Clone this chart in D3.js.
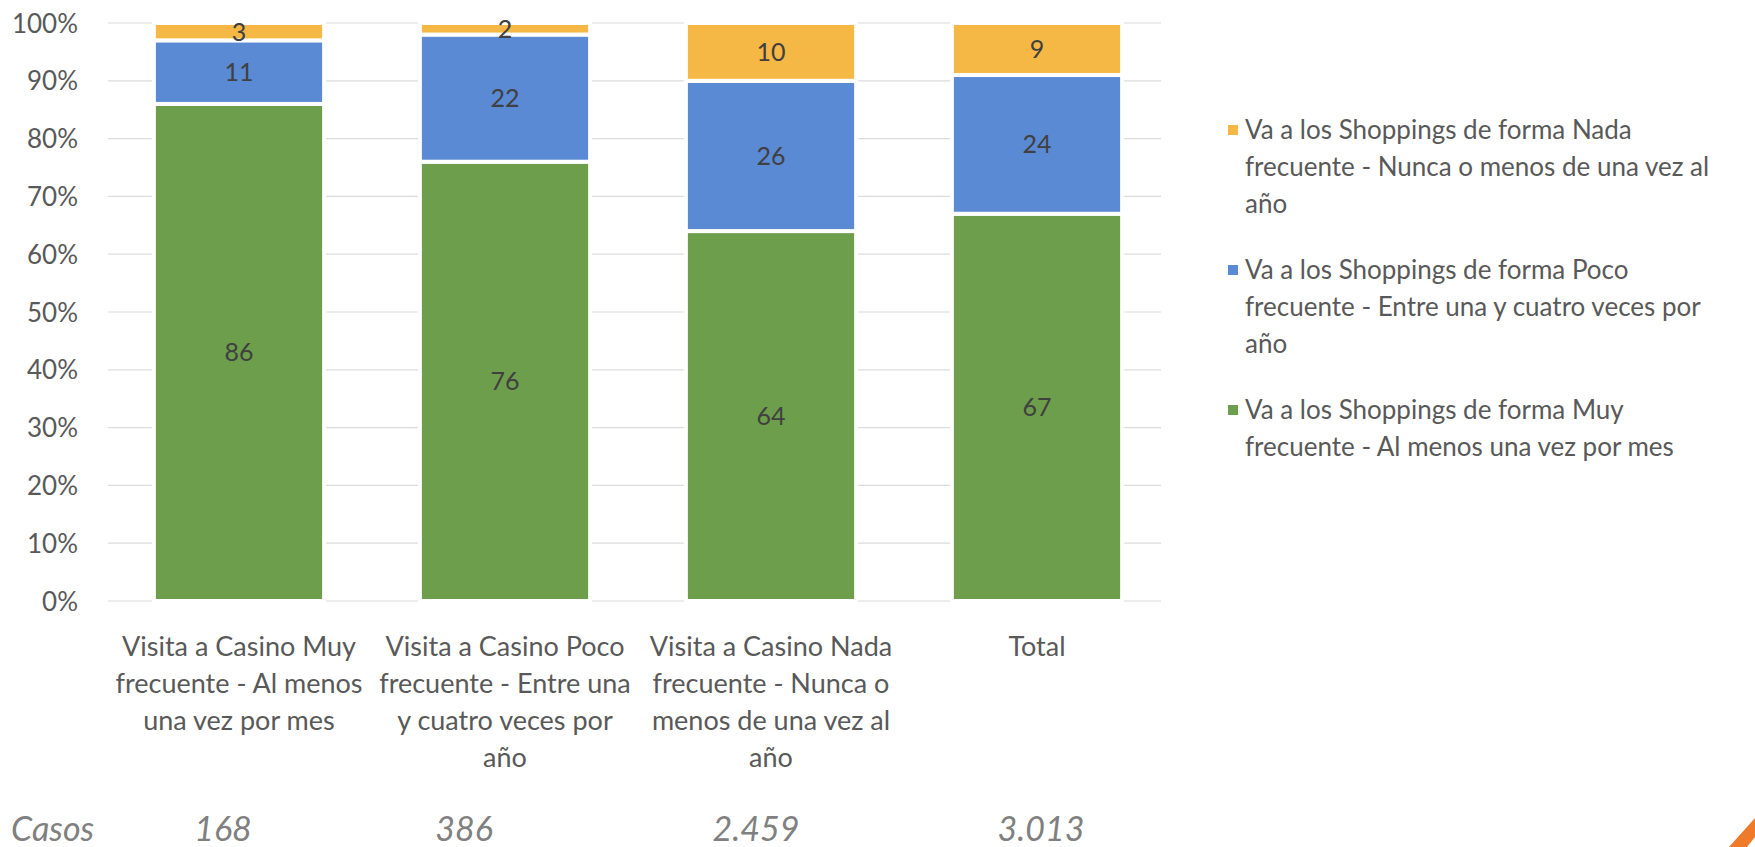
<!DOCTYPE html>
<html>
<head>
<meta charset="utf-8">
<script src="https://cdn.jsdelivr.net/npm/d3@7"></script>
<style>
  html, body { margin: 0; padding: 0; background: #fff; }
  svg { display: block; }
  text { font-family: Lato, "Open Sans", sans-serif; }
</style>
</head>
<body>
<svg id="chart" width="1755" height="847"></svg>
<script>
// Categories (casino visit frequency) and their wrapped label lines
const categories = [
  "Visita a Casino Muy frecuente - Al menos una vez por mes",
  "Visita a Casino Poco frecuente - Entre una y cuatro veces por año",
  "Visita a Casino Nada frecuente - Nunca o menos de una vez al año",
  "Total"
];
const categoryLines = [
  ["Visita a Casino Muy", "frecuente - Al menos", "una vez por mes"],
  ["Visita a Casino Poco", "frecuente - Entre una", "y cuatro veces por", "año"],
  ["Visita a Casino Nada", "frecuente - Nunca o", "menos de una vez al", "año"],
  ["Total"]
];

// Series values (percent), bottom to top of each stack
const muyFrecuente  = [86, 76, 64, 67];
const pocoFrecuente = [11, 22, 26, 24];
const nadaFrecuente = [3, 2, 10, 9];

const seriesNames = [
  "Va a los Shoppings de forma Muy frecuente - Al menos una vez por mes",
  "Va a los Shoppings de forma Poco frecuente - Entre una y cuatro veces por año",
  "Va a los Shoppings de forma Nada frecuente - Nunca o menos de una vez al año"
];
const seriesKeys = ["muy", "poco", "nada"];
const seriesColors = ["#6d9e4c", "#5b8ad4", "#f5b845"];

// Legend entries, top to bottom, with wrapped lines
const legendLines = [
  ["Va a los Shoppings de forma Nada", "frecuente - Nunca o menos de una vez al", "año"],
  ["Va a los Shoppings de forma Poco", "frecuente - Entre una y cuatro veces por", "año"],
  ["Va a los Shoppings de forma Muy", "frecuente - Al menos una vez por mes"]
];
const legendSeries = [2, 1, 0];

// Case counts row
const casosLabel = "Casos";
const casos = ["168", "386", "2.459", "3.013"];
const casosShift = [-16, -41, -15, 4];

const yTicks = [0, 10, 20, 30, 40, 50, 60, 70, 80, 90, 100];

const rows = categories.map((c, i) => ({
  cat: c,
  muy: muyFrecuente[i],
  poco: pocoFrecuente[i],
  nada: nadaFrecuente[i]
}));

const svg = d3.select("#chart");

const x = d3.scaleBand().domain(categories).range([106, 1170]).paddingInner(0.36).paddingOuter(0.18);
const y = d3.scaleLinear().domain([0, 100]).range([601, 23]);

// Gridlines
svg.append("g")
  .selectAll("line")
  .data(yTicks)
  .join("line")
  .attr("x1", 108).attr("x2", 1161)
  .attr("y1", d => y(d)).attr("y2", d => y(d))
  .attr("stroke", "#dcdcdc")
  .attr("stroke-width", 1.2);

// Y axis labels
const yAxis = d3.axisLeft(y).tickValues(yTicks).tickFormat(d => d + "%").tickSize(0).tickPadding(0);
const yg = svg.append("g").attr("transform", "translate(78,0)").call(yAxis);
yg.select(".domain").remove();
yg.selectAll("text")
  .attr("fill", "#595959")
  .style("font-size", "26px")
  .style("font-family", "Lato, sans-serif")
  .attr("dy", "0.35em");

// Stacked bars
const stack = d3.stack().keys(seriesKeys);
const layers = stack(rows);

const gBars = svg.append("g");
layers.forEach((layer, si) => {
  gBars.append("g")
    .selectAll("rect")
    .data(layer)
    .join("rect")
    .attr("x", d => x(d.data.cat))
    .attr("width", x.bandwidth())
    .attr("y", d => y(d[1]))
    .attr("height", d => y(d[0]) - y(d[1]))
    .attr("fill", seriesColors[si])
    .attr("stroke", "#ffffff")
    .attr("stroke-width", 4);
});

// Value labels centered in each segment
layers.forEach((layer, si) => {
  svg.append("g")
    .selectAll("text")
    .data(layer)
    .join("text")
    .attr("x", d => x(d.data.cat) + x.bandwidth() / 2)
    .attr("y", d => y((d[0] + d[1]) / 2))
    .attr("dy", "0.36em")
    .attr("text-anchor", "middle")
    .attr("fill", "#404040")
    .style("font-size", "25px")
    .text(d => d[1] - d[0]);
});

// Category labels
const xg = svg.append("g");
categories.forEach((c, i) => {
  const t = xg.append("text")
    .attr("x", x(c) + x.bandwidth() / 2)
    .attr("y", 655)
    .attr("text-anchor", "middle")
    .attr("fill", "#595959")
    .style("font-size", "27px");
  categoryLines[i].forEach((ln, j) => {
    t.append("tspan")
      .attr("x", x(c) + x.bandwidth() / 2)
      .attr("y", 656 + j * 37)
      .text(ln);
  });
});

// Case counts row
svg.append("text")
  .attr("x", 11).attr("y", 841)
  .attr("fill", "#808080")
  .style("font-size", "34px")
  .style("font-style", "italic")
  .text(casosLabel);
svg.append("g")
  .selectAll("text")
  .data(casos)
  .join("text")
  .attr("x", (d, i) => x(categories[i]) + x.bandwidth() / 2 + casosShift[i])
  .attr("y", 841)
  .attr("text-anchor", "middle")
  .attr("fill", "#808080")
  .style("font-size", "34px")
  .style("font-style", "italic")
  .text(d => d);

// Legend
const legendTop = [130, 270, 410];
const lg = svg.append("g");
legendLines.forEach((lines, k) => {
  const si = legendSeries[k];
  lg.append("rect")
    .attr("x", 1228).attr("y", legendTop[k] - 5)
    .attr("width", 10).attr("height", 10)
    .attr("fill", seriesColors[si]);
  const t = lg.append("text")
    .attr("fill", "#595959")
    .style("font-size", "26px");
  lines.forEach((ln, j) => {
    t.append("tspan")
      .attr("x", 1245)
      .attr("y", legendTop[k] + 9 + j * 37)
      .text(ln);
  });
});

// Corner accent stripe
svg.append("polygon")
  .attr("points", "1729,847 1747,847 1755,837 1755,818")
  .attr("fill", "#ef7a2a");
</script>
</body>
</html>
